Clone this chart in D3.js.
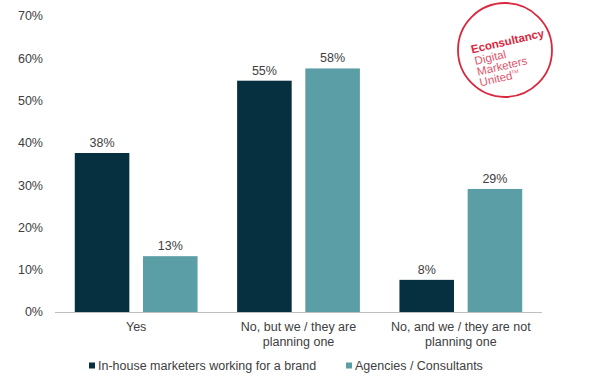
<!DOCTYPE html>
<html>
<head>
<meta charset="utf-8">
<script src="https://cdn.jsdelivr.net/npm/d3@7"></script>
<style>
  body { margin: 0; background: #fff; }
  text { font-family: "Liberation Sans", Arial, sans-serif; fill: #404040; }
</style>
</head>
<body>
<div id="chart"></div>
<script>
// data
var categories = [
  ["Yes"],
  ["No, but we / they are", "planning one"],
  ["No, and we / they are not", "planning one"]
];
var seriesNames = ["In-house marketers working for a brand", "Agencies / Consultants"];
var inHouse = [37.6, 54.7, 7.6];
var agencies = [13.2, 57.6, 29.1];
var yTicks = [0, 10, 20, 30, 40, 50, 60, 70];
var colors = ["#06303f", "#5b9ea6"];

var svgWidth = 589;
var svgHeight = 385;

var margin = { top: 16, right: 47, bottom: 73, left: 55 };
var width = svgWidth - margin.left - margin.right;
var height = svgHeight - margin.top - margin.bottom;

var svg = d3.select("#chart")
  .append("svg")
  .attr("width", svgWidth)
  .attr("height", svgHeight);

var chartGroup = svg.append("g")
  .attr("transform", `translate(${margin.left}, ${margin.top})`);

var x0 = d3.scaleBand()
  .domain(d3.range(categories.length))
  .range([0, width])
  .padding(0);

var x1 = d3.scaleBand()
  .domain([0, 1])
  .range([0, x0.bandwidth()])
  .paddingInner(0.2)
  .paddingOuter(0.29);

var y = d3.scaleLinear()
  .domain([0, 70])
  .range([height, 0]);

// y tick labels (no axis line)
chartGroup.selectAll(".ytick")
  .data(yTicks)
  .enter()
  .append("text")
  .attr("class", "ytick")
  .attr("x", -12)
  .attr("y", d => y(d))
  .attr("dy", "0.35em")
  .attr("text-anchor", "end")
  .attr("font-size", "12.5px")
  .text(d => d + "%");

// bars
var rows = categories.map((c, i) => [inHouse[i], agencies[i]]);

var groups = chartGroup.selectAll(".group")
  .data(rows)
  .enter()
  .append("g")
  .attr("transform", (d, i) => `translate(${x0(i)}, 0)`);

groups.selectAll("rect")
  .data(d => d)
  .enter()
  .append("rect")
  .attr("x", (d, j) => x1(j))
  .attr("y", d => y(d))
  .attr("width", x1.bandwidth())
  .attr("height", d => height - y(d))
  .attr("fill", (d, j) => colors[j]);

groups.selectAll(".val")
  .data(d => d)
  .enter()
  .append("text")
  .attr("class", "val")
  .attr("x", (d, j) => x1(j) + x1.bandwidth() / 2)
  .attr("y", d => y(d) - 6)
  .attr("text-anchor", "middle")
  .attr("font-size", "12.5px")
  .text(d => Math.round(d) + "%");

// x axis line
chartGroup.append("line")
  .attr("x1", 0)
  .attr("x2", width)
  .attr("y1", height + 0.5)
  .attr("y2", height + 0.5)
  .attr("stroke", "#bfbfbf")
  .attr("stroke-width", 1);

// category labels
var catLabels = chartGroup.selectAll(".cat")
  .data(categories)
  .enter()
  .append("text")
  .attr("class", "cat")
  .attr("text-anchor", "middle")
  .attr("font-size", "12.5px")
  .attr("transform", (d, i) => `translate(${x0(i) + x0.bandwidth() / 2}, ${height + 19})`);

catLabels.selectAll("tspan")
  .data(d => d)
  .enter()
  .append("tspan")
  .attr("x", 0)
  .attr("y", (d, k) => k * 15)
  .text(d => d);

// legend
var legendX = [89, 346];
var legend = svg.selectAll(".legend")
  .data(seriesNames)
  .enter()
  .append("g")
  .attr("transform", (d, i) => `translate(${legendX[i]}, 366)`);

legend.append("rect")
  .attr("x", 0)
  .attr("y", -3.5)
  .attr("width", 6)
  .attr("height", 6)
  .attr("fill", (d, i) => colors[i]);

legend.append("text")
  .attr("x", 9)
  .attr("y", 0)
  .attr("dy", "0.35em")
  .attr("font-size", "12.5px")
  .text(d => d);

// Econsultancy stamp
var logo = svg.append("g")
  .attr("transform", "translate(505, 50)");

logo.append("circle")
  .attr("r", 47)
  .attr("fill", "none")
  .attr("stroke", "#d9283e")
  .attr("stroke-width", 1.8);

var logoText = logo.append("g")
  .attr("transform", "rotate(-13)");

logoText.append("text")
  .attr("x", -33)
  .attr("y", -4)
  .attr("font-size", "11.5px")
  .attr("font-weight", "bold")
  .style("fill", "#d9283e")
  .text("Econsultancy");

var logoLines = ["Digital", "Marketers", "United"];
var ll = logoText.selectAll(".ll")
  .data(logoLines)
  .enter()
  .append("text")
  .attr("class", "ll")
  .attr("x", -32)
  .attr("y", (d, i) => 8 + i * 11)
  .attr("font-size", "11.5px")
  .style("fill", "#e0566a")
  .text(d => d);

ll.filter((d, i) => i === 2)
  .append("tspan")
  .attr("font-size", "5px")
  .attr("dy", "-5")
  .text("TM");
</script>
</body>
</html>
